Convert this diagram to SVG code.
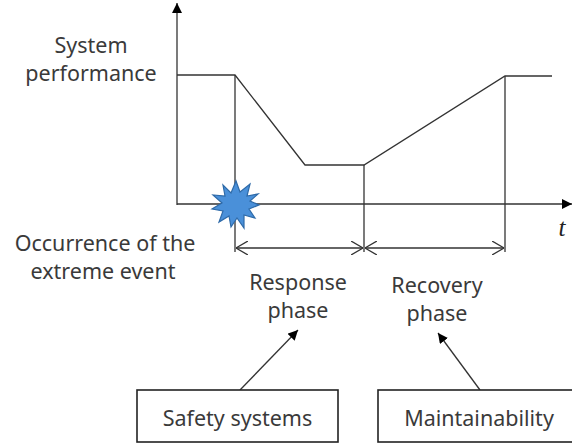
<svg xmlns="http://www.w3.org/2000/svg" width="572" height="445" viewBox="0 0 572 445">
<defs>
<style>
.ln{stroke:#333;stroke-width:1.3;fill:none}
.tx{font-family:"Noto Sans","Liberation Sans",sans-serif;font-size:21.5px;fill:#3a3a3a;text-anchor:middle}
.box{fill:#fff;stroke:#222;stroke-width:1.6}
</style>
<marker id="fa" viewBox="0 0 10 10" refX="10" refY="5" markerWidth="10" markerHeight="10" markerUnits="userSpaceOnUse" orient="auto">
<path d="M0,0 L10,5 L0,10 Z" fill="#000"/>
</marker>
<marker id="oa" viewBox="0 0 12 14" refX="12" refY="7" markerWidth="12" markerHeight="14" markerUnits="userSpaceOnUse" orient="auto-start-reverse">
<path d="M0,0 L12,7 L0,14" fill="none" stroke="#333" stroke-width="1.3"/>
</marker>
</defs>
<rect width="572" height="445" fill="#fff"/>
<g id="connectors">
<line class="ln" x1="177" y1="205" x2="177" y2="3" marker-end="url(#fa)"/>
<line class="ln" x1="177" y1="204" x2="572" y2="204" marker-end="url(#fa)"/>
<polyline class="ln" points="177,75 235,75 305,165 364,165 505,76 552,76"/>
<line class="ln" x1="235" y1="75" x2="235" y2="252"/>
<line class="ln" x1="364" y1="165" x2="364" y2="252"/>
<line class="ln" x1="505" y1="76" x2="505" y2="252"/>
<line class="ln" x1="236" y1="248" x2="363" y2="248" marker-start="url(#oa)" marker-end="url(#oa)"/>
<line class="ln" x1="365" y1="248" x2="504" y2="248" marker-start="url(#oa)" marker-end="url(#oa)"/>
<line class="ln" x1="240" y1="390" x2="298" y2="330" marker-end="url(#fa)"/>
<line class="ln" x1="480" y1="390" x2="438" y2="333" marker-end="url(#fa)"/>
</g>
<g id="event">
<polygon points="259,205 249,209 255,218 244,215 244,228 237,218 231,227 229,216 219,222 223,211 212,209 222,203 213,195 225,196 223,185 231,193 236,181 240,192 250,184 247,196 258,194 250,201" fill="#4a90d9" stroke="#2e6aa8" stroke-width="1.2"/>
</g>
<g id="labels">
<text class="tx" x="91" y="53">System</text>
<text class="tx" x="91" y="81">performance</text>
<text class="tx" x="105" y="251">Occurrence of the</text>
<text class="tx" x="103" y="279">extreme event</text>
<text class="tx" x="298" y="290">Response</text>
<text class="tx" x="298" y="318">phase</text>
<text class="tx" x="437" y="293">Recovery</text>
<text class="tx" x="437" y="321">phase</text>
<text x="562" y="236" style="font-family:'Liberation Serif',serif;font-style:italic;font-size:25px;fill:#222;text-anchor:middle">t</text>
</g>
<g id="safety">
<rect class="box" x="137" y="390" width="201" height="52"/>
<text class="tx" x="237.5" y="426">Safety systems</text>
</g>
<g id="maintainability">
<rect class="box" x="378" y="390" width="202" height="52"/>
<text class="tx" x="479" y="426">Maintainability</text>
</g>
</svg>
